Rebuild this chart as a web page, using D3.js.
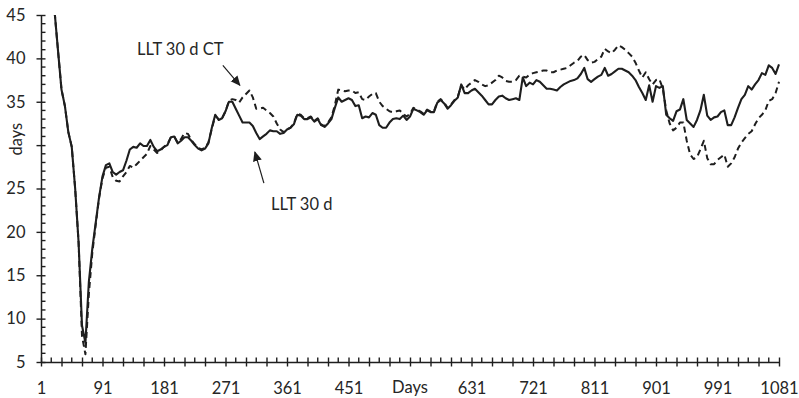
<!DOCTYPE html>
<html>
<head>
<meta charset="utf-8">
<script src="https://cdn.jsdelivr.net/npm/d3@7"></script>
<style>
  body { margin: 0; background: #fff; }
  text { font-family: Lato, "Open Sans", sans-serif; fill: #262626; }
</style>
</head>
<body>
<svg id="chart" width="799" height="398"></svg>
<script>
// Daily samples, one value every 5 days starting on day 21
const firstDay = 21;
const dayStep = 5;

// LLT 30 d (solid)
const llt = [
  45.3, 40.8, 36.4, 34.5, 31.5, 29.8, 25.0, 18.8, 9.2, 7.2,
  14.2, 18.0, 21.0, 24.0, 26.4, 27.7, 27.9, 26.9, 26.6, 26.9,
  27.1, 28.2, 29.5, 29.8, 29.7, 30.2, 29.9, 29.9, 30.6, 29.8,
  29.3, 29.5, 29.8, 30.0, 30.9, 31.0, 30.2, 30.5, 30.9, 30.9,
  30.5, 30.0, 29.6, 29.4, 29.6, 30.2, 32.0, 33.5, 32.9, 33.1,
  33.9, 35.0, 35.0, 34.2, 33.4, 32.6, 32.6, 32.6, 32.2, 31.4,
  30.7, 31.0, 31.3, 31.7, 31.6, 31.6, 31.3, 31.4, 31.8, 32.0,
  32.4, 33.5, 33.4, 33.0, 33.0, 33.2, 32.7, 33.0, 32.3, 32.1,
  32.5, 33.0, 34.3, 35.5, 35.0, 35.2, 35.4, 35.2, 34.5, 34.6,
  33.1, 33.3, 33.2, 33.7, 33.5, 32.3, 32.0, 32.0, 32.6, 33.0,
  33.1, 33.0, 33.4, 32.9, 33.3, 34.2, 34.0, 33.8, 33.5, 34.0,
  33.8, 33.8, 34.9, 35.2, 34.8, 34.2, 34.6, 35.1, 35.5, 37.0,
  36.0, 36.0, 36.3, 36.5, 36.1, 35.7, 35.2, 34.7, 34.7, 35.2,
  35.6, 35.7, 35.4, 35.2, 35.3, 35.4, 35.2, 37.8, 36.8, 37.2,
  37.0, 37.5, 37.3, 36.9, 36.5, 36.5, 36.4, 36.3, 36.7, 37.0,
  37.2, 37.4, 37.5, 37.7, 38.2, 38.9, 37.6, 37.3, 37.6, 37.9,
  38.1, 38.9, 38.0, 38.2, 38.5, 38.8, 38.8, 38.6, 38.4, 38.0,
  37.5, 36.7, 36.0, 35.2, 36.9, 35.0, 36.8, 36.6, 36.8, 33.5,
  33.1, 32.8, 33.9, 34.1, 35.3, 32.9, 32.5, 32.1, 32.9, 34.0,
  35.8, 33.4, 32.9, 33.2, 33.3, 33.8, 34.0, 32.3, 32.3, 33.2,
  34.3, 35.3, 35.8, 36.8, 36.4, 37.0, 37.5, 38.3, 38.1, 39.2,
  38.9, 38.2, 39.3
];

// LLT 30 d CT (dashed)
const lltCT = [
  45.3, 40.8, 36.4, 34.5, 31.5, 29.8, 25.0, 18.8, 8.0, 5.9,
  12.8, 17.5, 20.8, 23.9, 26.2, 27.4, 27.5, 26.3, 25.9, 25.8,
  26.4, 26.9, 27.6, 27.4, 27.8, 28.2, 28.6, 29.0, 29.9, 29.5,
  29.1, 29.4, 29.8, 30.1, 30.9, 31.0, 30.3, 30.7, 31.4, 31.3,
  30.6, 30.1, 29.7, 29.5, 29.7, 30.3, 31.9, 33.4, 33.0, 33.1,
  33.9, 35.1, 35.3, 35.2, 34.9, 35.5, 35.9, 36.3, 35.5, 34.2,
  34.2, 34.3, 34.0, 33.7, 33.3, 32.5, 31.8, 31.5, 31.8, 32.0,
  32.5, 33.6, 33.5, 33.1, 33.1, 33.3, 32.8, 33.1, 32.4, 32.2,
  32.6, 33.2, 34.6, 36.4, 36.3, 36.2, 36.3, 36.3, 36.0, 36.1,
  35.3, 35.2, 35.6, 35.9, 36.0, 35.0, 34.5, 34.2, 33.9, 33.8,
  33.9, 34.0, 33.6, 33.3, 33.6, 34.3, 34.1, 33.9, 33.6, 34.1,
  33.9, 33.9, 35.0, 35.3, 34.9, 34.3, 34.7, 35.2, 35.6, 36.9,
  36.4, 36.9, 37.2, 37.5, 37.3, 37.0, 36.8, 36.9, 37.2, 37.5,
  38.0, 37.8, 37.4, 37.3, 37.3, 37.5, 38.0, 37.9, 37.8, 38.1,
  38.3, 38.4, 38.5, 38.6, 38.6, 38.4, 38.4, 38.6, 38.7, 38.8,
  38.9, 39.2, 39.5, 39.7, 40.2, 40.4, 39.8, 39.5, 39.6, 39.9,
  40.2, 41.1, 40.8, 40.6, 41.0, 41.5, 41.3, 41.0, 40.6, 40.2,
  39.5, 38.6, 37.8, 38.4, 37.6, 37.0, 37.5, 37.6, 36.5, 34.0,
  32.5, 31.7, 32.0, 32.6, 32.6, 30.5, 28.9, 28.4, 28.6, 29.5,
  30.5, 28.5, 27.8, 27.8, 28.3, 28.6, 28.9, 27.5, 27.9, 28.6,
  29.6, 30.3, 30.8, 31.3, 31.6, 32.4, 33.1, 33.5, 34.0, 35.1,
  35.3, 36.0, 37.3
];

const days = llt.map((_, i) => firstDay + i * dayStep);

// Axis tick labels (the axis titles take the slots of 30 and 541)
const xLabels = [1, 91, 181, 271, 361, 451, 631, 721, 811, 901, 991, 1081];
const yLabels = [5, 10, 15, 20, 25, 35, 40, 45];

const svg = d3.select("#chart");
const plotLeft = 41, plotRight = 779, plotTop = 15, plotBottom = 362;
const inkColor = "#1e1e1e";
const fontSize = 16.5;

const x = d3.scaleLinear().domain([1, 1081]).range([plotLeft, plotRight]);
const y = d3.scaleLinear().domain([5, 45]).range([plotBottom, plotTop]);

const defs = svg.append("defs");
defs.append("clipPath").attr("id", "plotArea")
  .append("rect").attr("x", plotLeft).attr("y", plotTop)
  .attr("width", plotRight - plotLeft + 4).attr("height", plotBottom - plotTop + 4);

defs.append("marker")
  .attr("id", "arrowHead").attr("viewBox", "0 0 10 10")
  .attr("refX", 9).attr("refY", 5)
  .attr("markerWidth", 10).attr("markerHeight", 10)
  .attr("markerUnits", "userSpaceOnUse")
  .attr("orient", "auto")
  .append("path").attr("d", "M0,0.5 L10,5 L0,9.5 Z").attr("fill", inkColor);

// Y axis: d3.axisLeft draws the axis line, labels and the major ticks
const yAxis = svg.append("g").attr("transform", `translate(${plotLeft},0)`)
  .call(d3.axisLeft(y).tickValues(yLabels.concat([30])).tickSizeOuter(0).tickSizeInner(4.5)
    .tickPadding(11).tickFormat(d => yLabels.includes(d) ? d3.format("d")(d) : ""));
yAxis.select(".domain").attr("stroke", inkColor).attr("stroke-width", 1.5);
yAxis.selectAll(".tick line").attr("x1", 4.5).attr("stroke", inkColor).attr("stroke-width", 1.4);
yAxis.selectAll(".tick text").attr("font-size", fontSize).attr("font-family", "Lato, sans-serif").style("fill", "#262626");
// minor ticks every day-unit, inside
yAxis.selectAll("line.minor").data(d3.range(5, 45.01, 1).filter(v => v % 5 !== 0)).join("line")
  .attr("class", "minor").attr("x1", 0).attr("x2", 4.5)
  .attr("y1", d => y(d)).attr("y2", d => y(d))
  .attr("stroke", inkColor).attr("stroke-width", 1.4);

// X axis: d3.axisBottom draws the axis line, labels and the major ticks (every 30 days)
const xMajor = d3.range(1, 1082, 30);
const xAxis = svg.append("g").attr("transform", `translate(0,${plotBottom})`)
  .call(d3.axisBottom(x).tickValues(xMajor).tickSizeOuter(0).tickSizeInner(4.5)
    .tickPadding(15.5).tickFormat(d => xLabels.includes(d) ? d3.format("d")(d) : ""));
xAxis.select(".domain").attr("stroke", inkColor).attr("stroke-width", 1.5);
xAxis.selectAll(".tick line").attr("y1", -4.5).attr("stroke", inkColor).attr("stroke-width", 1.4);
xAxis.selectAll(".tick text").attr("font-size", fontSize).attr("font-family", "Lato, sans-serif").style("fill", "#262626");
// minor ticks halfway between majors, inside
xAxis.selectAll("line.minor").data(d3.range(16, 1082, 30)).join("line")
  .attr("class", "minor").attr("x1", d => x(d)).attr("x2", d => x(d))
  .attr("y1", 0).attr("y2", -4.5)
  .attr("stroke", inkColor).attr("stroke-width", 1.4);

// Axis titles
svg.append("text").attr("x", x(541)).attr("y", 393).attr("text-anchor", "middle")
  .attr("font-size", fontSize).text("Days");
svg.append("text").attr("transform", `translate(22,${y(30) - 6}) rotate(-90)`)
  .attr("text-anchor", "middle").attr("font-size", fontSize).text("days");

// Series
const line = d3.line().x((d, i) => x(days[i])).y(d => y(d));
const plot = svg.append("g").attr("clip-path", "url(#plotArea)");
plot.append("path").datum(lltCT).attr("d", line)
  .attr("fill", "none").attr("stroke", inkColor).attr("stroke-width", 2)
  .attr("stroke-dasharray", "6,4").attr("stroke-linejoin", "round");
plot.append("path").datum(llt).attr("d", line)
  .attr("fill", "none").attr("stroke", inkColor).attr("stroke-width", 2.1)
  .attr("stroke-linejoin", "round");

// Annotations
const notes = [
  { label: "LLT 30 d CT", day: 292, value: 36.9, dx: -17, dy: -20, tx: 137, ty: 55 },
  { label: "LLT 30 d", day: 314, value: 29.2, dx: 9, dy: 31, tx: 271, ty: 210 }
];
notes.forEach(n => {
  const px = x(n.day), py = y(n.value);
  svg.append("line").attr("x1", px + n.dx).attr("y1", py + n.dy)
    .attr("x2", px).attr("y2", py)
    .attr("stroke", inkColor).attr("stroke-width", 1.2)
    .attr("marker-end", "url(#arrowHead)");
  svg.append("text").attr("x", n.tx).attr("y", n.ty).attr("font-size", fontSize).text(n.label);
});
</script>
</body>
</html>
